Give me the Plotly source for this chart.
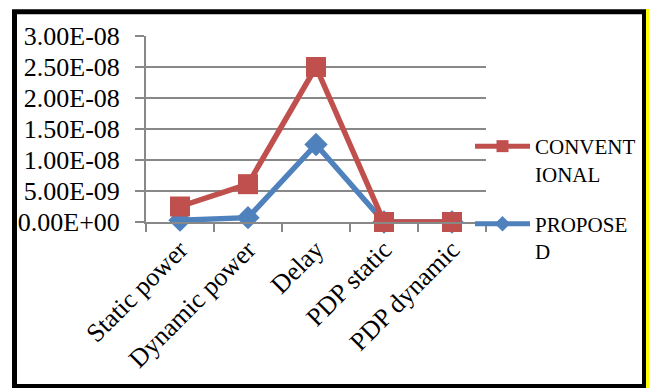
import plotly.graph_objects as go

categories = ["Static power", "Dynamic power", "Delay", "PDP static", "PDP dynamic"]
conventional = [2.5e-9, 6.1e-9, 2.5e-8, 0.0, 0.0]
proposed = [3e-10, 7e-10, 1.25e-8, 0.0, 0.0]
tick_vals = [0, 5e-9, 1e-8, 1.5e-8, 2e-8, 2.5e-8, 3e-8]
tick_text = ["0.00E+00", "5.00E-09", "1.00E-08", "1.50E-08", "2.00E-08", "2.50E-08", "3.00E-08"]

W, H = 649, 388
L, R, T, B = 146, 486, 36, 222

fig = go.Figure()
fig.add_trace(go.Scatter(
    x=categories, y=proposed, name="PROPOSE<br>D", mode="lines+markers",
    line=dict(color="#4F81BD", width=5.5),
    marker=dict(symbol="diamond", size=18, color="#4F81BD"),
    legendgroup="b", legendrank=2, cliponaxis=False))
fig.add_trace(go.Scatter(
    x=categories, y=conventional, name="CONVENT<br>IONAL", mode="lines+markers",
    line=dict(color="#C0504D", width=5.5),
    marker=dict(symbol="square", size=20, color="#C0504D"),
    legendgroup="a", legendrank=1, cliponaxis=False))

def px_x(p):
    return (p - L) / (R - L)

def px_y(p):
    return (B - p) / (B - T)

fig.add_shape(type="rect", xref="paper", yref="paper",
              x0=px_x(14.5), x1=px_x(644.5), y0=px_y(386.5), y1=px_y(11.7),
              line=dict(color="black", width=5), layer="below")
fig.add_shape(type="line", xref="paper", yref="paper",
              x0=px_x(647.5), x1=px_x(647.5), y0=px_y(388), y1=px_y(9),
              line=dict(color="#FFFF00", width=3))

fig.update_layout(
    width=W, height=H,
    margin=dict(l=L, r=W - R, t=T, b=H - B, autoexpand=False),
    paper_bgcolor="white", plot_bgcolor="white",
    font=dict(family="Liberation Serif", color="black", size=25),
    showlegend=True,
    legend=dict(x=px_x(470), y=px_y(126), xanchor="left", yanchor="top",
                font=dict(size=21, family="Liberation Serif"),
                traceorder="grouped", tracegroupgap=20, valign="top",
                itemwidth=55, itemsizing="constant",
                bgcolor="rgba(0,0,0,0)"),
    xaxis=dict(type="category", tickangle=-45, tickson="boundaries",
               ticks="outside", ticklen=8, tickcolor="#888888", tickwidth=2,
               showline=True, linecolor="#888888", linewidth=2,
               showgrid=False, tickfont=dict(size=26), automargin=False,
               range=[-0.5, 4.5]),
    yaxis=dict(range=[0, 3e-8], tickvals=tick_vals, ticktext=tick_text,
               ticks="outside", ticklen=9, tickcolor="#888888", tickwidth=2,
               showline=True, linecolor="#888888", linewidth=2,
               showgrid=True, gridcolor="#888888", gridwidth=2,
               zeroline=False, tickfont=dict(size=26), automargin=False,
               ticklabelstandoff=10),
)

fig.write_html("out.html", config={"displayModeBar": False},
               post_script="document.body.style.margin='0';document.body.style.padding='0';")
